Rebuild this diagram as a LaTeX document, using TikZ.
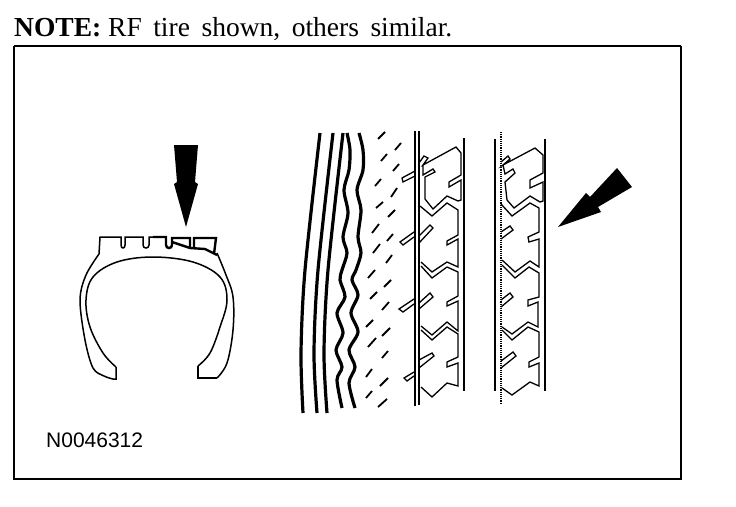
\documentclass[tikz,border=0pt]{standalone}
\usepackage{fontspec}
\setmainfont{Liberation Serif}
\newfontfamily\labelfont{Liberation Sans}
\tikzset{
  ink/.style={draw=black,line width=1.5pt,line join=miter},
  fine/.style={draw=black,line width=1.3pt,line join=miter},
  heavy/.style={draw=black,line width=3.2pt,line cap=butt,line join=round},
  dash stroke/.style={draw=black,line width=1.8pt},
  solid arrow/.style={fill=black,draw=none},
  frameline/.style={draw=black,line width=1.8pt}
}
\begin{document}
\begin{tikzpicture}[x=1pt,y=-1pt]
\useasboundingbox[fill=white] (0,0) rectangle (736,506);
% text
\node[anchor=base west,inner sep=0pt,font=\fontsize{27.5}{32}\selectfont] (note) at (14,36) {\textbf{NOTE:} RF\hspace{.42em}tire\hspace{.42em}shown,\hspace{.42em}others\hspace{.42em}similar.};
\node[anchor=base west,inner sep=0pt,font=\labelfont\fontsize{21}{25}\selectfont] (code) at (46,447) {N0046312};
% frame
\draw[draw=black,line width=1.4pt] (14,46) -- (681,46);
\draw[draw=black,line width=1.8pt] (14,46) -- (14,479);
\draw[frameline] (681,46) -- (681,479);
\draw[draw=black,line width=2.4pt] (13,479) -- (682,479);
% tire section
\draw[ink] plot[smooth,tension=.55] coordinates {(99,254) (86,275) (80,300) (85,340) (93,368) (104,376) (113,379)} -- (116,379) -- (116,367);
\draw[ink] plot[smooth,tension=.6] coordinates {(116,367) (103,353) (90,327) (86,300) (93,277) (117,262) (153,257) (193,262) (220,277) (227,300) (220,327) (210,353) (198,366)};
\draw[ink] (198,366) -- (198,378) -- (217,378);
\draw[ink] plot[smooth,tension=.6] coordinates {(217,378) (227,363) (233,330) (233,297) (226,275) (217,253)};
\draw[ink] (99,254) -- (100,237) -- (121,237) -- (121,245) .. controls (121,249) and (125,249) .. (125,245) -- (125,237) -- (143,237) -- (143,245) .. controls (143,249) and (149,249) .. (149,245) -- (149,237) -- (153,237);
\draw[draw=black,line width=2.4pt] (153,237) -- (166,237) -- (166,245) .. controls (166,249) and (172,249) .. (172,245) -- (172,238) -- (190,238) -- (190,247);
\draw[draw=black,line width=2.4pt] (194,247) -- (194,238) -- (216,238) -- (214,254);
\draw[draw=black,line width=2.4pt] (172,242) -- (190,248) -- (205,249) -- (217,255);
% arrows
\fill[solid arrow] (174,145) -- (198,145) -- (195,182) -- (198,184) -- (186,227) -- (174,184) -- (177,182) -- cycle;
\fill[solid arrow] (617,168) -- (632,187) -- (598,207) -- (601,212) -- (558,227) -- (586,193) -- (590,197) -- cycle;
% sidewall ribs
\draw[heavy] plot[smooth] coordinates {(320,133) (305,270) (301,353) (303,413)};
\draw[heavy] plot[smooth] coordinates {(333,133) (318,270) (314,353) (317,413)};
\draw[heavy] plot[smooth] coordinates {(343,133) (328,270) (324,353) (327,413)};
\draw[heavy] plot[smooth] coordinates {(347,133) (350,150) (349,170) (344,190) (348,213) (343,237) (347,253) (342,270) (340,280) (345,297) (337,313) (343,333) (336,350) (342,367) (337,380) (342,408)};
\draw[heavy] plot[smooth] coordinates {(359,133) (363,150) (363,170) (357,190) (361,210) (358,237) (361,253) (356,270) (352,280) (358,295) (351,313) (358,332) (349,350) (355,367) (349,383) (355,408)};
% dashes
\foreach \a/\b/\c/\d in {378/139/385/132,395/150/401/143,381/161/387/154,393/171/399/164,375/186/381/179,391/197/397/188,376/208/383/202,388/217/395/210,372/233/379/224,387/241/393/234,373/253/380/244,386/263/392/255,368/278/375/270,384/287/391/280,370/299/377/292,382/310/389/302,366/327/373/320,382/336/390/328,368/347/376/338,382/358/388/351,366/377/372/369,380/386/388/378,366/398/372/391,378/407/387/399}
  \draw[dash stroke] (\a,\b) -- (\c,\d);
% tread band A
\draw[fine] (415,131) -- (415,406);
\draw[draw=black,line width=2pt] (419,131) -- (419,405);
\draw[draw=black,line width=1.8pt] (464,138) -- (464,391);
\draw[fine] (415,171) -- (402,178) -- (403,182) -- (415,176);
\draw[fine] (414,232) -- (400,242) -- (403,245) -- (414,237);
\draw[fine] (414,299) -- (399,309) -- (403,312) -- (414,304);
\draw[fine] (414,372) -- (404,378) -- (407,381) -- (414,376);
\draw[fine] (419,163) -- (424,156) -- (428,158) -- (423,165) -- (456,147) -- (461,153) -- (461,175) -- (449,182) -- (449,187) -- (461,180) -- (461,200) -- (458,201) -- (447,196) -- (433,209) -- (425,199) -- (425,177) -- (435,172) -- (433,169) -- (423,175) -- (423,165);
\draw[fine] (420,206) -- (432,216) -- (447,203) -- (458,210) -- (458,235) -- (447,241) -- (447,245) -- (458,239) -- (458,267) -- (447,262) -- (432,272) -- (421,262);
\draw[fine] (419,243) -- (433,228) -- (430,225) -- (419,236);
\draw[fine] (421,266) -- (432,278) -- (447,267) -- (458,272) -- (458,296) -- (447,302) -- (447,306) -- (458,301) -- (458,331) -- (447,322) -- (432,335) -- (421,326);
\draw[fine] (419,303) -- (430,293) -- (433,297) -- (419,309);
\draw[fine] (421,330) -- (432,340) -- (447,327) -- (458,334) -- (458,357) -- (447,362) -- (447,367) -- (458,363) -- (458,386) -- (447,383) -- (432,397) -- (421,387);
\draw[fine] (419,360) -- (432,353) -- (434,356) -- (419,368);
% tread band B
\draw[fine] (495,139) -- (495,391);
\draw[draw=black,line width=1.2pt,densely dotted] (501,132) -- (501,404);
\draw[fine] (545,139) -- (545,391);
\draw[fine] (501,162) -- (508,156) -- (510,159) -- (503,165) -- (535,148) -- (543,155) -- (543,173) -- (530,180) -- (530,188) -- (543,182) -- (543,201) -- (540,202) -- (530,196) -- (514,208) -- (507,200) -- (505,182) -- (515,173) -- (513,169) -- (505,174) -- (503,165);
\draw[fine] (501,204) -- (512,216) -- (530,203) -- (539,208) -- (539,232) -- (528,237) -- (529,242) -- (539,239) -- (539,267) -- (530,261) -- (515,272) -- (502,260);
\draw[fine] (501,232) -- (510,226) -- (513,230) -- (501,239);
\draw[fine] (502,265) -- (515,278) -- (529,267) -- (539,273) -- (539,297) -- (528,300) -- (528,306) -- (538,302) -- (538,327) -- (528,322) -- (512,334) -- (502,327);
\draw[fine] (501,300) -- (510,293) -- (513,297) -- (501,307);
\draw[fine] (502,330) -- (512,340) -- (528,327) -- (539,332) -- (539,357) -- (529,362) -- (529,367) -- (539,363) -- (539,386) -- (530,382) -- (512,395) -- (502,388);
\draw[fine] (501,361) -- (513,352) -- (516,356) -- (501,368);
\end{tikzpicture}
\end{document}
